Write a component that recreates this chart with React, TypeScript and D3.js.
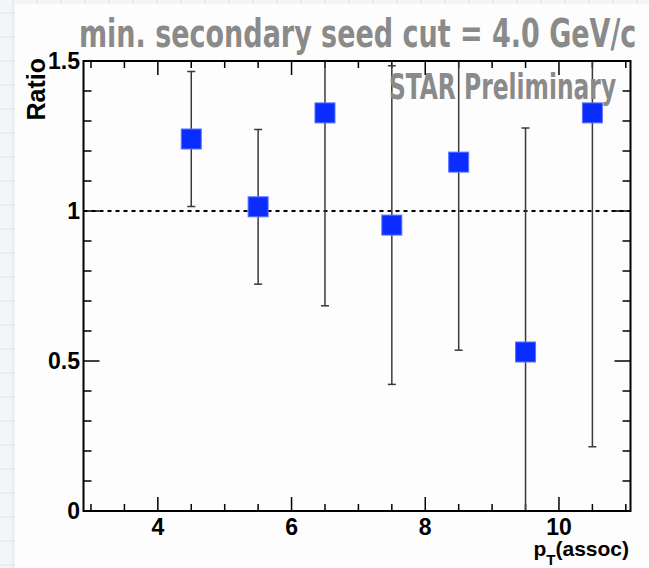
import React from 'react';
import { scaleLinear, range } from 'd3';

// pT(assoc) bin centres, ratio values and symmetric errors
const ptAssoc = [4.5, 5.5, 6.5, 7.5, 8.5, 9.5, 10.5];
const ratio = [1.24, 1.014, 1.327, 0.953, 1.163, 0.53, 1.327];
const ratioErr = [0.225, 0.258, 0.643, 0.531, 0.627, 0.747, 1.113];

const xMajor = [4, 6, 8, 10];
const yMajor = [0, 0.5, 1, 1.5];
const yLabels = ['0', '0.5', '1', '1.5'];

const W = 649;
const H = 568;
const frame = { left: 83.5, right: 630.5, top: 61, bottom: 511 };

function App() {
  const x = scaleLinear().domain([2.888, 11.07]).range([frame.left, frame.right]);
  const y = scaleLinear().domain([0, 1.5]).range([frame.bottom, frame.top]);

  const xMinor = range(3, 11.01, 0.5).filter((v) => !xMajor.includes(v));
  const yMinor = range(0, 1.501, 0.1).filter((v) => !yMajor.some((m) => Math.abs(m - v) < 1e-6));

  const grid = range(0, Math.max(W, H), 24);
  const fw = frame.right - frame.left;
  const fh = frame.bottom - frame.top;
  const cap = 4;
  const sq = 20;
  const handFont = "'DejaVu Sans Condensed', 'DejaVu Sans', sans-serif";

  return (
    <svg
      width={W}
      height={H}
      style={{ position: 'fixed', top: 0, left: 0, display: 'block' }}
    >
      <defs>
        <clipPath id="plotClip">
          <rect x={frame.left} y={frame.top} width={fw} height={fh} />
        </clipPath>
      </defs>

      {/* graph paper page */}
      <rect width={W} height={H} fill="#f3f5f6" />
      {grid.map((g) => (
        <g key={g} stroke="#d6e6ef" strokeWidth={1}>
          <line x1={g + 13} x2={g + 13} y1={0} y2={H} />
          <line x1={0} x2={W} y1={g + 13} y2={g + 13} />
        </g>
      ))}
      <rect x={15} y={4} width={W - 15} height={H - 4} fill="#fdfdfd" />

      {/* title */}
      <text
        x={0}
        y={0}
        transform="translate(79, 47) scale(1, 1.3)"
        fontFamily={handFont}
        fontWeight="bold"
        fontSize={30}
        fill="#8a8a8a"
      >
        min. secondary seed cut = 4.0 GeV/c
      </text>

      {/* reference line at 1 */}
      <line
        x1={frame.left}
        x2={frame.right}
        y1={y(1)}
        y2={y(1)}
        stroke="#000"
        strokeWidth={2}
        strokeDasharray="4,4"
      />

      {/* ticks */}
      <g stroke="#000" strokeWidth={1.5}>
        {xMajor.map((v) => (
          <g key={'xM' + v}>
            <line x1={x(v)} x2={x(v)} y1={frame.bottom} y2={frame.bottom - 14} />
            <line x1={x(v)} x2={x(v)} y1={frame.top} y2={frame.top + 14} />
          </g>
        ))}
        {xMinor.map((v) => (
          <g key={'xm' + v}>
            <line x1={x(v)} x2={x(v)} y1={frame.bottom} y2={frame.bottom - 7} />
            <line x1={x(v)} x2={x(v)} y1={frame.top} y2={frame.top + 7} />
          </g>
        ))}
        {yMajor.map((v) => (
          <g key={'yM' + v}>
            <line x1={frame.left} x2={frame.left + 16} y1={y(v)} y2={y(v)} />
            <line x1={frame.right} x2={frame.right - 16} y1={y(v)} y2={y(v)} />
          </g>
        ))}
        {yMinor.map((v) => (
          <g key={'ym' + v}>
            <line x1={frame.left} x2={frame.left + 8} y1={y(v)} y2={y(v)} />
            <line x1={frame.right} x2={frame.right - 8} y1={y(v)} y2={y(v)} />
          </g>
        ))}
      </g>

      {/* error bars and markers */}
      <g clipPath="url(#plotClip)">
        {ptAssoc.map((p, i) => {
          const lo = ratio[i] - ratioErr[i];
          const hi = ratio[i] + ratioErr[i];
          return (
            <g key={'e' + p} stroke="#3a3a3a" strokeWidth={1.5}>
              <line x1={x(p)} x2={x(p)} y1={y(lo)} y2={y(hi)} />
              <line x1={x(p) - cap} x2={x(p) + cap} y1={y(lo)} y2={y(lo)} />
              <line x1={x(p) - cap} x2={x(p) + cap} y1={y(hi)} y2={y(hi)} />
            </g>
          );
        })}
        {ptAssoc.map((p, i) => (
          <rect
            key={'m' + p}
            x={x(p) - sq / 2}
            y={y(ratio[i]) - sq / 2}
            width={sq}
            height={sq}
            fill="#0a2cff"
            stroke="#5a74ff"
            strokeWidth={1}
          />
        ))}
      </g>

      {/* frame */}
      <rect
        x={frame.left}
        y={frame.top}
        width={fw}
        height={fh}
        fill="none"
        stroke="#000"
        strokeWidth={2}
      />

      {/* preliminary label */}
      <text
        x={0}
        y={0}
        transform="translate(389, 99) scale(1, 1.35)"
        fontFamily={handFont}
        fontWeight="bold"
        fontSize={26}
        fill="#8a8a8a"
      >
        STAR Preliminary
      </text>

      {/* tick labels */}
      <g fontFamily="'Liberation Sans', Arial, sans-serif" fontWeight="bold" fontSize={23} fill="#000">
        {xMajor.map((v) => (
          <text key={'xl' + v} x={x(v)} y={535} textAnchor="middle">
            {v}
          </text>
        ))}
        {yMajor.map((v, i) => (
          <text key={'yl' + v} x={80} y={y(v) + 8} textAnchor="end">
            {yLabels[i]}
          </text>
        ))}
      </g>

      {/* axis titles */}
      <g fontFamily="'Liberation Sans', Arial, sans-serif" fontWeight="bold" fill="#000">
        <text
          x={0}
          y={0}
          fontSize={25}
          textAnchor="end"
          transform={`translate(45, ${frame.top - 3}) rotate(-90)`}
        >
          Ratio
        </text>
        <text x={629} y={556} fontSize={21} textAnchor="end">
          p<tspan fontSize={15} dy={9}>T</tspan>
          <tspan dy={-9}>(assoc)</tspan>
        </text>
      </g>
    </svg>
  );
}

export default App;
